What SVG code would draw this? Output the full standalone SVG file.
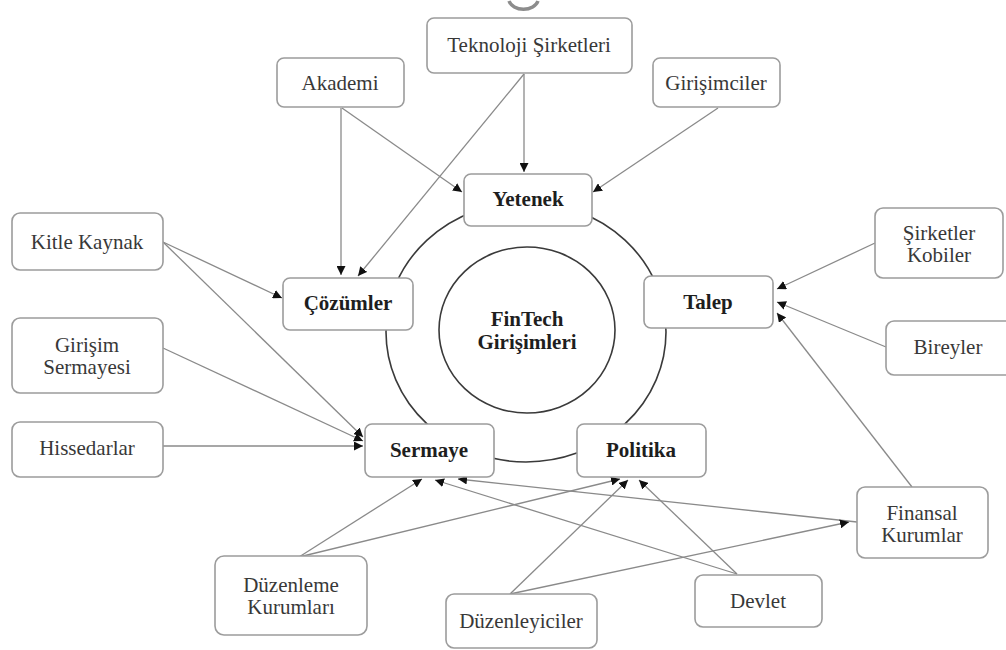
<svg xmlns="http://www.w3.org/2000/svg" width="1006" height="650" viewBox="0 0 1006 650">
  <defs>
    <marker id="arrow" viewBox="0 0 10 10" refX="10" refY="5" markerWidth="9" markerHeight="9" markerUnits="userSpaceOnUse" orient="auto">
      <path d="M0,0 L10,5 L0,10 z" fill="#111"/>
    </marker>
    <style>
      .box { fill: #fff; stroke: #9c9c9c; stroke-width: 1.6; }
      .ring { fill: none; stroke: #3a3a3a; stroke-width: 1.6; }
      .lbl { font-family: "Liberation Serif", "Times New Roman", serif; font-size: 21px; fill: #383838; text-anchor: middle; dominant-baseline: central; }
      .bold { font-weight: bold; fill: #1e1e1e; }
      .edge { fill: none; stroke: #8a8a8a; stroke-width: 1.3; marker-end: url(#arrow); }
    </style>
  </defs>
  <rect width="1006" height="650" fill="#fff"/>

  <!-- partial mark at the top edge -->
  <path d="M509,1 A15,11 0 0 0 538,1" fill="none" stroke="#8c8c8c" stroke-width="3.5"/>

  <!-- outer ring linking the five pillars -->
  <ellipse class="ring" cx="526" cy="332" rx="140" ry="130"/>

  <g id="connectors">
    <!-- into Yetenek -->
    <line class="edge" x1="524" y1="74" x2="524" y2="172"/>
    <line class="edge" x1="342" y1="108" x2="462" y2="192"/>
    <line class="edge" x1="718" y1="108" x2="593" y2="192"/>
    <!-- into Çözümler -->
    <line class="edge" x1="524" y1="74" x2="358" y2="276"/>
    <line class="edge" x1="341" y1="108" x2="341" y2="275"/>
    <line class="edge" x1="163" y1="242" x2="282" y2="298"/>
    <!-- into Sermaye (left side) -->
    <line class="edge" x1="163" y1="242" x2="363" y2="437"/>
    <line class="edge" x1="163" y1="348" x2="363" y2="441"/>
    <line class="edge" x1="163" y1="446" x2="363" y2="446"/>
    <!-- into Talep -->
    <line class="edge" x1="875" y1="243" x2="777" y2="289"/>
    <line class="edge" x1="886" y1="347" x2="777" y2="302"/>
    <line class="edge" x1="912" y1="487" x2="777" y2="313"/>
    <!-- into Sermaye (bottom) -->
    <line class="edge" x1="299" y1="557" x2="422" y2="479"/>
    <line class="edge" x1="737" y1="574" x2="435" y2="480"/>
    <line class="edge" x1="857" y1="522" x2="458" y2="479"/>
    <!-- into Politika (bottom) -->
    <line class="edge" x1="299" y1="557" x2="620" y2="479"/>
    <line class="edge" x1="510" y1="594" x2="628" y2="480"/>
    <line class="edge" x1="737" y1="574" x2="639" y2="480"/>
    <!-- into Finansal Kurumlar -->
    <line class="edge" x1="510" y1="594" x2="849" y2="522"/>
  </g>

  <g id="n-fintech">
    <ellipse class="ring" cx="527" cy="330" rx="88" ry="83"/>
    <text class="lbl bold" x="527" y="319">FinTech</text>
    <text class="lbl bold" x="527" y="342">Girişimleri</text>
  </g>

  <g id="n-yetenek">
    <rect class="box" x="464" y="174" width="128" height="52" rx="7"/>
    <text class="lbl bold" x="528" y="199">Yetenek</text>
  </g>
  <g id="n-cozumler">
    <rect class="box" x="283" y="278" width="130" height="52" rx="7"/>
    <text class="lbl bold" x="348" y="303">Çözümler</text>
  </g>
  <g id="n-talep">
    <rect class="box" x="644" y="276" width="129" height="52" rx="7"/>
    <text class="lbl bold" x="708" y="302">Talep</text>
  </g>
  <g id="n-sermaye">
    <rect class="box" x="365" y="424" width="129" height="53" rx="7"/>
    <text class="lbl bold" x="429" y="450">Sermaye</text>
  </g>
  <g id="n-politika">
    <rect class="box" x="577" y="424" width="129" height="53" rx="7"/>
    <text class="lbl bold" x="641" y="450">Politika</text>
  </g>

  <g id="n-teknoloji">
    <rect class="box" x="427" y="18" width="205" height="55" rx="7"/>
    <text class="lbl" x="529" y="45">Teknoloji Şirketleri</text>
  </g>
  <g id="n-akademi">
    <rect class="box" x="277" y="58" width="127" height="49" rx="7"/>
    <text class="lbl" x="340" y="83">Akademi</text>
  </g>
  <g id="n-girisimciler">
    <rect class="box" x="653" y="58" width="127" height="49" rx="7"/>
    <text class="lbl" x="716" y="83">Girişimciler</text>
  </g>
  <g id="n-kitle">
    <rect class="box" x="12" y="213" width="151" height="57" rx="8"/>
    <text class="lbl" x="87" y="242">Kitle Kaynak</text>
  </g>
  <g id="n-girisim-sermayesi">
    <rect class="box" x="12" y="318" width="151" height="75" rx="8"/>
    <text class="lbl" x="87" y="345">Girişim</text>
    <text class="lbl" x="87" y="367">Sermayesi</text>
  </g>
  <g id="n-hissedarlar">
    <rect class="box" x="12" y="422" width="151" height="55" rx="8"/>
    <text class="lbl" x="87" y="448">Hissedarlar</text>
  </g>
  <g id="n-sirketler">
    <rect class="box" x="875" y="208" width="128" height="70" rx="8"/>
    <text class="lbl" x="939" y="233">Şirketler</text>
    <text class="lbl" x="939" y="255">Kobiler</text>
  </g>
  <g id="n-bireyler">
    <rect class="box" x="886" y="321" width="130" height="54" rx="8"/>
    <text class="lbl" x="948" y="347">Bireyler</text>
  </g>
  <g id="n-finansal">
    <rect class="box" x="857" y="487" width="131" height="71" rx="8"/>
    <text class="lbl" x="922" y="513">Finansal</text>
    <text class="lbl" x="922" y="535">Kurumlar</text>
  </g>
  <g id="n-duzenleme">
    <rect class="box" x="215" y="556" width="152" height="79" rx="9"/>
    <text class="lbl" x="291" y="585">Düzenleme</text>
    <text class="lbl" x="291" y="607">Kurumları</text>
  </g>
  <g id="n-duzenleyiciler">
    <rect class="box" x="446" y="594" width="151" height="54" rx="8"/>
    <text class="lbl" x="521" y="621">Düzenleyiciler</text>
  </g>
  <g id="n-devlet">
    <rect class="box" x="695" y="575" width="127" height="52" rx="8"/>
    <text class="lbl" x="758" y="601">Devlet</text>
  </g>
</svg>
